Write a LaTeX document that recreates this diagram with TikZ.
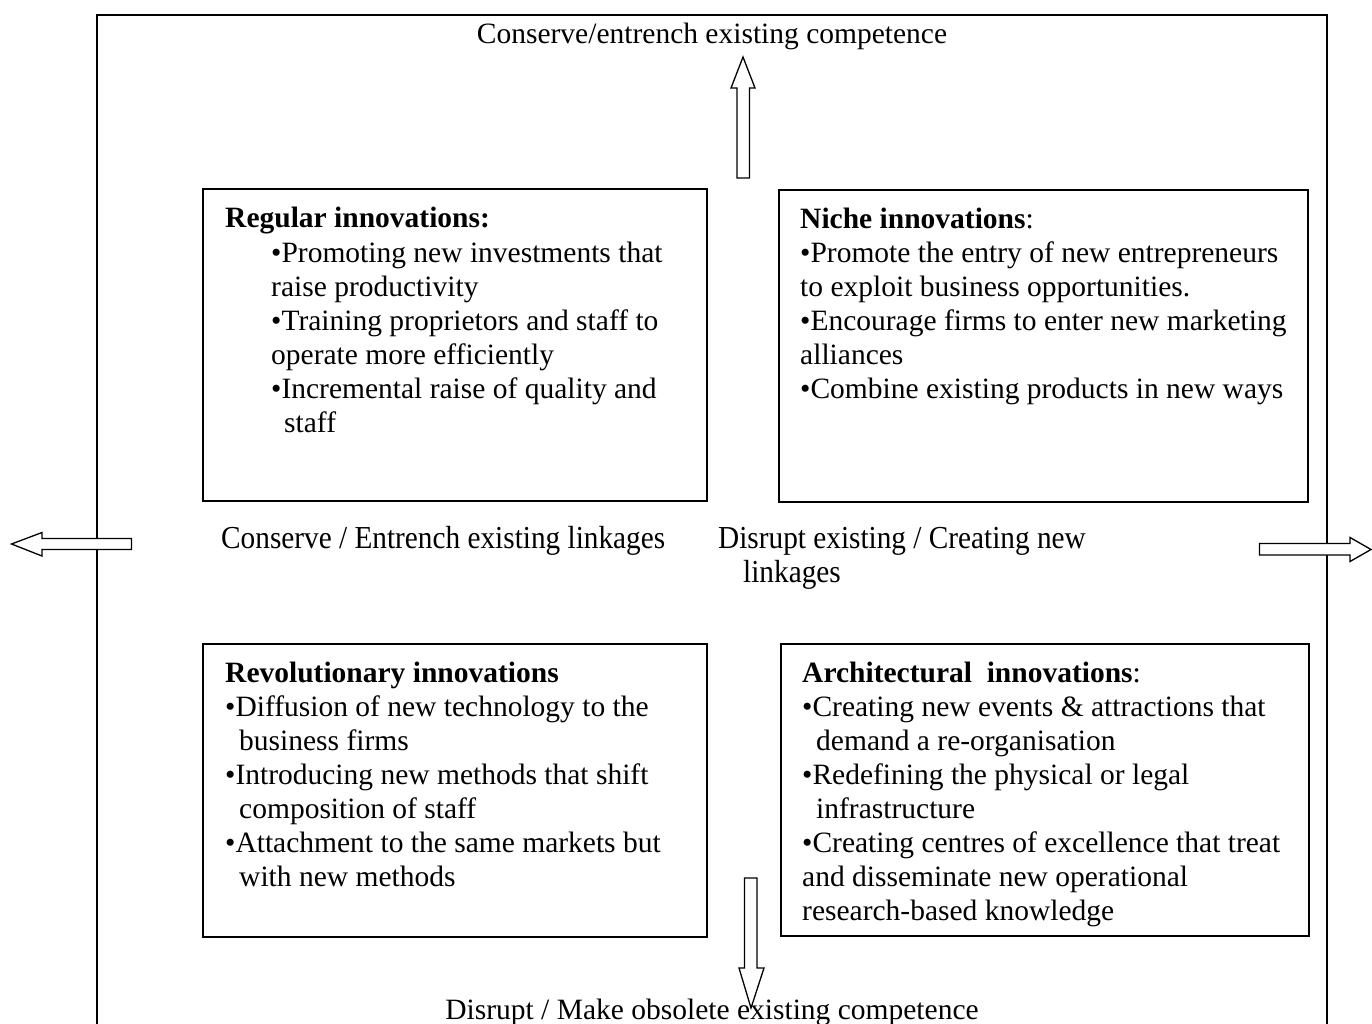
\documentclass[tikz,border=0pt]{standalone}
\usepackage{fontspec}
\setmainfont{Liberation Serif}
\usepackage{graphicx}
\begin{document}
\begin{tikzpicture}[x=1pt,y=-1pt,
  txt/.style={inner sep=0pt, anchor=base west, font=\fontsize{29.5}{34}\selectfont},
  midtxt/.style={inner sep=0pt, anchor=base west, font=\fontsize{32}{34}\selectfont},
  ctxt/.style={inner sep=0pt, anchor=base, font=\fontsize{29.5}{34}\selectfont},
  quad/.style={draw, line width=1.5pt},
  blockarrow/.style={draw, line width=1.3pt, line join=miter, fill=white}]
\useasboundingbox (0,0) rectangle (1372,1023);
% outer frame
\draw[line width=2pt] (97,1030) -- (97,15) -- (1327,15) -- (1327,1030);
% boxes
\draw[quad] (203,189) rectangle (707,501);
\draw[quad] (779,190) rectangle (1308,502);
\draw[quad] (203,644) rectangle (707,937);
\draw[quad] (781,644) rectangle (1309,936);
% block arrows
\draw[blockarrow] (743,57) -- (755,88) -- (749.5,88) -- (749.5,178) -- (737,178) -- (737,88) -- (731,88) -- cycle;
\draw[blockarrow] (751,1008) -- (764,968) -- (757,968) -- (757,878) -- (744.5,878) -- (744.5,968) -- (739,968) -- cycle;
\draw[blockarrow] (11.5,544) -- (42,532.5) -- (42,538.5) -- (131.5,538.5) -- (131.5,549.5) -- (42,549.5) -- (42,556) -- cycle;
\draw[blockarrow] (1371,549.5) -- (1350,537.5) -- (1350,543.5) -- (1259.5,543.5) -- (1259.5,555) -- (1350,555) -- (1350,561.5) -- cycle;
% outer labels
\node[ctxt] (top) at (712,43) {Conserve/entrench existing competence};
\node[ctxt] (bot) at (712,1019) {Disrupt / Make obsolete existing competence};
\node[midtxt] (midl) at (221,548) {\scalebox{0.915}[1]{Conserve / Entrench existing linkages}};
\node[midtxt] (midr1) at (718,548) {\scalebox{0.915}[1]{Disrupt existing / Creating new}};
\node[midtxt] (midr2) at (743,582) {\scalebox{0.915}[1]{linkages}};
% box 1
\node[txt] (a0) at (225,227) {\textbf{Regular innovations:}};
\node[txt] (a1) at (271,262) {•Promoting new investments that};
\node[txt] (a2) at (271,296) {raise productivity};
\node[txt] (a3) at (271,330) {•Training proprietors and staff to};
\node[txt] (a4) at (271,364) {operate more efficiently};
\node[txt] (a5) at (271,398) {•Incremental raise of quality and};
\node[txt] (a6) at (284,432) {staff};
% box 2
\node[txt] (b0) at (800,228) {\textbf{Niche innovations}:};
\node[txt] (b1) at (800,262) {•Promote the entry of new entrepreneurs};
\node[txt] (b2) at (800,296) {to exploit business opportunities.};
\node[txt] (b3) at (800,330) {•Encourage firms to enter new marketing};
\node[txt] (b4) at (800,364) {alliances};
\node[txt] (b5) at (800,398) {•Combine existing products in new ways};
% box 3
\node[txt] (c0) at (225,682) {\textbf{Revolutionary innovations}};
\node[txt] (c1) at (225,716) {•Diffusion of new technology to the};
\node[txt] (c2) at (239,750) {business firms};
\node[txt] (c3) at (225,784) {•Introducing new methods that shift};
\node[txt] (c4) at (239,818) {composition of staff};
\node[txt] (c5) at (225,852) {•Attachment to the same markets but};
\node[txt] (c6) at (239,886) {with new methods};
% box 4
\node[txt] (d0) at (802,682) {\textbf{Architectural\ \ innovations}:};
\node[txt] (d1) at (802,716) {•Creating new events \& attractions that};
\node[txt] (d2) at (816,750) {demand a re-organisation};
\node[txt] (d3) at (802,784) {•Redefining the physical or legal};
\node[txt] (d4) at (816,818) {infrastructure};
\node[txt] (d5) at (802,852) {•Creating centres of excellence that treat};
\node[txt] (d6) at (802,886) {and disseminate new operational};
\node[txt] (d7) at (802,920) {research-based knowledge};
\end{tikzpicture}
\end{document}
